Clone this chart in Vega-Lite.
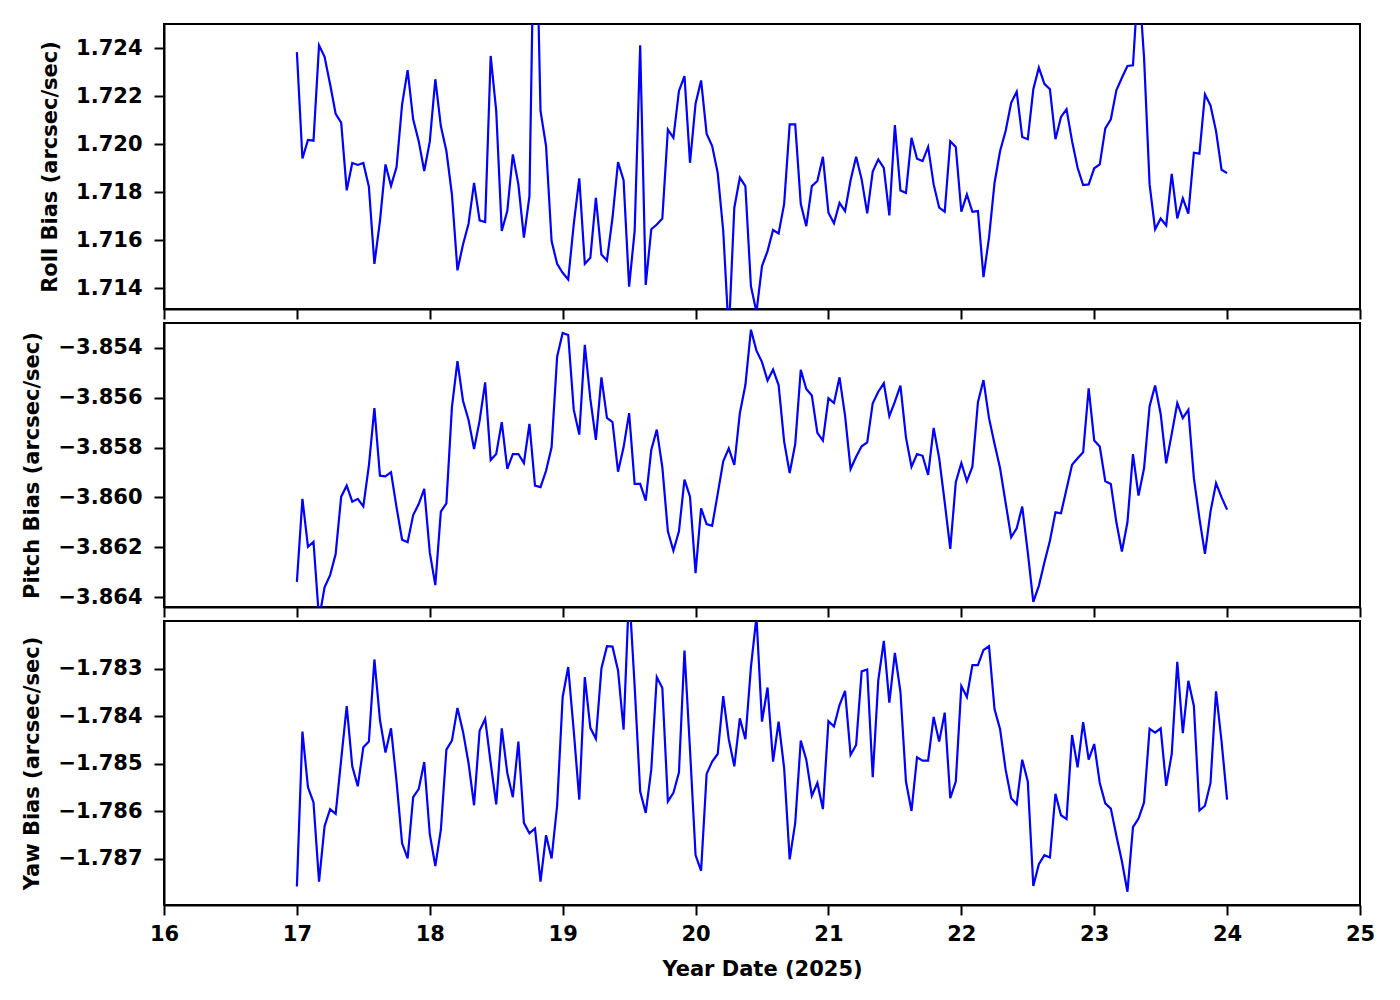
{
  "$schema": "https://vega.github.io/schema/vega-lite/v6.json",
  "background": "white",
  "padding": {"left": 20, "top": 23, "right": 40, "bottom": 10},
  "bounds": "flush",
  "spacing": 14,
  "config": {
    "font": "DejaVu Sans",
    "view": {"stroke": "black", "strokeWidth": 2},
    "axis": {
      "labelFont": "DejaVu Sans", "labelFontWeight": "bold", "labelFontSize": 21, "labelColor": "black",
      "titleFont": "DejaVu Sans", "titleFontWeight": "bold", "titleFontSize": 21, "titleColor": "black",
      "domainColor": "black", "domainWidth": 2, "tickColor": "black", "tickWidth": 2, "tickSize": 10,
      "grid": false, "labelOverlap": false, "labelFlush": false
    },
    "axisY": {"labelPadding": 12, "titlePadding": 15},
    "axisX": {"labelPadding": 8, "titlePadding": 14}
  },
  "datasets": {
    "bias": [
      {"day":17,"roll":1.72383,"pitch":-3.86339,"yaw":-1.78758},
      {"day":17.0417,"roll":1.7194,"pitch":-3.86006,"yaw":-1.78432},
      {"day":17.0833,"roll":1.72017,"pitch":-3.86198,"yaw":-1.78549},
      {"day":17.125,"roll":1.72014,"pitch":-3.86178,"yaw":-1.78581},
      {"day":17.1667,"roll":1.72411,"pitch":-3.86488,"yaw":-1.78748},
      {"day":17.2083,"roll":1.72363,"pitch":-3.86361,"yaw":-1.78631},
      {"day":17.25,"roll":1.72249,"pitch":-3.86312,"yaw":-1.78595},
      {"day":17.2917,"roll":1.72126,"pitch":-3.86227,"yaw":-1.78605},
      {"day":17.3333,"roll":1.72089,"pitch":-3.85997,"yaw":-1.78491},
      {"day":17.375,"roll":1.71807,"pitch":-3.85953,"yaw":-1.78378},
      {"day":17.4167,"roll":1.71921,"pitch":-3.86017,"yaw":-1.78505},
      {"day":17.4583,"roll":1.71913,"pitch":-3.86006,"yaw":-1.78547},
      {"day":17.5,"roll":1.71921,"pitch":-3.86036,"yaw":-1.78465},
      {"day":17.5417,"roll":1.71822,"pitch":-3.85873,"yaw":-1.78453},
      {"day":17.5833,"roll":1.71501,"pitch":-3.85642,"yaw":-1.7828},
      {"day":17.625,"roll":1.71679,"pitch":-3.85913,"yaw":-1.78407},
      {"day":17.6667,"roll":1.71915,"pitch":-3.85916,"yaw":-1.78476},
      {"day":17.7083,"roll":1.71826,"pitch":-3.85899,"yaw":-1.78425},
      {"day":17.75,"roll":1.71904,"pitch":-3.8604,"yaw":-1.78537},
      {"day":17.7917,"roll":1.72165,"pitch":-3.8617,"yaw":-1.78667},
      {"day":17.8333,"roll":1.72308,"pitch":-3.8618,"yaw":-1.78699},
      {"day":17.875,"roll":1.72103,"pitch":-3.86071,"yaw":-1.7857},
      {"day":17.9167,"roll":1.72012,"pitch":-3.86027,"yaw":-1.78553},
      {"day":17.9583,"roll":1.71888,"pitch":-3.85966,"yaw":-1.78496},
      {"day":18,"roll":1.7201,"pitch":-3.86221,"yaw":-1.78648},
      {"day":18.0417,"roll":1.7227,"pitch":-3.86352,"yaw":-1.78715},
      {"day":18.0833,"roll":1.72075,"pitch":-3.86057,"yaw":-1.78639},
      {"day":18.125,"roll":1.71971,"pitch":-3.86024,"yaw":-1.7847},
      {"day":18.1667,"roll":1.7179,"pitch":-3.85638,"yaw":-1.78451},
      {"day":18.2083,"roll":1.71474,"pitch":-3.85453,"yaw":-1.78382},
      {"day":18.25,"roll":1.71582,"pitch":-3.85612,"yaw":-1.78432},
      {"day":18.2917,"roll":1.71668,"pitch":-3.85689,"yaw":-1.78498},
      {"day":18.3333,"roll":1.71838,"pitch":-3.85806,"yaw":-1.78587},
      {"day":18.375,"roll":1.71682,"pitch":-3.85692,"yaw":-1.7843},
      {"day":18.4167,"roll":1.71675,"pitch":-3.85538,"yaw":-1.78405},
      {"day":18.4583,"roll":1.72367,"pitch":-3.8585,"yaw":-1.78498},
      {"day":18.5,"roll":1.72138,"pitch":-3.85826,"yaw":-1.78585},
      {"day":18.5417,"roll":1.71638,"pitch":-3.85698,"yaw":-1.78425},
      {"day":18.5833,"roll":1.71721,"pitch":-3.85886,"yaw":-1.78519},
      {"day":18.625,"roll":1.71957,"pitch":-3.85826,"yaw":-1.7857},
      {"day":18.6667,"roll":1.71832,"pitch":-3.85826,"yaw":-1.78453},
      {"day":18.7083,"roll":1.7161,"pitch":-3.85862,"yaw":-1.78624},
      {"day":18.75,"roll":1.71783,"pitch":-3.85705,"yaw":-1.78646},
      {"day":18.7917,"roll":1.732,"pitch":-3.85953,"yaw":-1.78636},
      {"day":18.8333,"roll":1.72138,"pitch":-3.85959,"yaw":-1.78748},
      {"day":18.875,"roll":1.71992,"pitch":-3.85893,"yaw":-1.7865},
      {"day":18.9167,"roll":1.71596,"pitch":-3.85799,"yaw":-1.78699},
      {"day":18.9583,"roll":1.71501,"pitch":-3.85435,"yaw":-1.78588},
      {"day":19,"roll":1.71464,"pitch":-3.8534,"yaw":-1.78359},
      {"day":19.0417,"roll":1.71436,"pitch":-3.85348,"yaw":-1.78296},
      {"day":19.0833,"roll":1.71665,"pitch":-3.85648,"yaw":-1.7843},
      {"day":19.125,"roll":1.71857,"pitch":-3.85748,"yaw":-1.78575},
      {"day":19.1667,"roll":1.71501,"pitch":-3.85388,"yaw":-1.78317},
      {"day":19.2083,"roll":1.71526,"pitch":-3.85605,"yaw":-1.78424},
      {"day":19.25,"roll":1.71776,"pitch":-3.85769,"yaw":-1.78447},
      {"day":19.2917,"roll":1.7154,"pitch":-3.85518,"yaw":-1.78299},
      {"day":19.3333,"roll":1.71515,"pitch":-3.85681,"yaw":-1.78252},
      {"day":19.375,"roll":1.71693,"pitch":-3.85698,"yaw":-1.78253},
      {"day":19.4167,"roll":1.71925,"pitch":-3.85897,"yaw":-1.78303},
      {"day":19.4583,"roll":1.71849,"pitch":-3.85799,"yaw":-1.78428},
      {"day":19.5,"roll":1.71406,"pitch":-3.85662,"yaw":-1.78135},
      {"day":19.5417,"roll":1.71638,"pitch":-3.85946,"yaw":-1.78336},
      {"day":19.5833,"roll":1.72411,"pitch":-3.85946,"yaw":-1.78558},
      {"day":19.625,"roll":1.71413,"pitch":-3.86013,"yaw":-1.78603},
      {"day":19.6667,"roll":1.71645,"pitch":-3.8581,"yaw":-1.78512},
      {"day":19.7083,"roll":1.71665,"pitch":-3.85728,"yaw":-1.78317},
      {"day":19.75,"roll":1.7169,"pitch":-3.85879,"yaw":-1.7834},
      {"day":19.7917,"roll":1.7206,"pitch":-3.86136,"yaw":-1.78579},
      {"day":19.8333,"roll":1.72026,"pitch":-3.86214,"yaw":-1.78561},
      {"day":19.875,"roll":1.72221,"pitch":-3.86136,"yaw":-1.78518},
      {"day":19.9167,"roll":1.72283,"pitch":-3.85929,"yaw":-1.78261},
      {"day":19.9583,"roll":1.71922,"pitch":-3.85997,"yaw":-1.7847},
      {"day":20,"roll":1.72168,"pitch":-3.86304,"yaw":-1.78692},
      {"day":20.0417,"roll":1.72265,"pitch":-3.86044,"yaw":-1.78725},
      {"day":20.0833,"roll":1.72043,"pitch":-3.86107,"yaw":-1.78521},
      {"day":20.125,"roll":1.71992,"pitch":-3.86114,"yaw":-1.78495},
      {"day":20.1667,"roll":1.7188,"pitch":-3.85986,"yaw":-1.78479},
      {"day":20.2083,"roll":1.71638,"pitch":-3.85855,"yaw":-1.78357},
      {"day":20.25,"roll":1.7121,"pitch":-3.85803,"yaw":-1.78448},
      {"day":20.2917,"roll":1.71735,"pitch":-3.8587,"yaw":-1.78505},
      {"day":20.3333,"roll":1.7186,"pitch":-3.85662,"yaw":-1.78404},
      {"day":20.375,"roll":1.71825,"pitch":-3.85549,"yaw":-1.78448},
      {"day":20.4167,"roll":1.71408,"pitch":-3.85327,"yaw":-1.78296},
      {"day":20.4583,"roll":1.713,"pitch":-3.85411,"yaw":-1.7819},
      {"day":20.5,"roll":1.71492,"pitch":-3.85457,"yaw":-1.78411},
      {"day":20.5417,"roll":1.71554,"pitch":-3.85531,"yaw":-1.78339},
      {"day":20.5833,"roll":1.71642,"pitch":-3.85487,"yaw":-1.78495},
      {"day":20.625,"roll":1.71628,"pitch":-3.85549,"yaw":-1.78411},
      {"day":20.6667,"roll":1.71751,"pitch":-3.85776,"yaw":-1.78509},
      {"day":20.7083,"roll":1.72082,"pitch":-3.85902,"yaw":-1.78701},
      {"day":20.75,"roll":1.72082,"pitch":-3.85786,"yaw":-1.78624},
      {"day":20.7917,"roll":1.71751,"pitch":-3.85488,"yaw":-1.78451},
      {"day":20.8333,"roll":1.71658,"pitch":-3.85565,"yaw":-1.78491},
      {"day":20.875,"roll":1.71825,"pitch":-3.85591,"yaw":-1.78567},
      {"day":20.9167,"roll":1.71846,"pitch":-3.85741,"yaw":-1.7854},
      {"day":20.9583,"roll":1.71947,"pitch":-3.85772,"yaw":-1.78595},
      {"day":21,"roll":1.71714,"pitch":-3.85602,"yaw":-1.7841},
      {"day":21.0417,"roll":1.7167,"pitch":-3.85621,"yaw":-1.78421},
      {"day":21.0833,"roll":1.71755,"pitch":-3.85518,"yaw":-1.78376},
      {"day":21.125,"roll":1.71721,"pitch":-3.85672,"yaw":-1.78346},
      {"day":21.1667,"roll":1.71849,"pitch":-3.85886,"yaw":-1.78481},
      {"day":21.2083,"roll":1.71947,"pitch":-3.85837,"yaw":-1.7846},
      {"day":21.25,"roll":1.71853,"pitch":-3.85795,"yaw":-1.78305},
      {"day":21.2917,"roll":1.71711,"pitch":-3.85779,"yaw":-1.78301},
      {"day":21.3333,"roll":1.71885,"pitch":-3.85622,"yaw":-1.78528},
      {"day":21.375,"roll":1.71936,"pitch":-3.85576,"yaw":-1.78324},
      {"day":21.4167,"roll":1.71901,"pitch":-3.85542,"yaw":-1.78241},
      {"day":21.4583,"roll":1.71703,"pitch":-3.85674,"yaw":-1.78371},
      {"day":21.5,"roll":1.72079,"pitch":-3.85616,"yaw":-1.78266},
      {"day":21.5417,"roll":1.71807,"pitch":-3.85551,"yaw":-1.78348},
      {"day":21.5833,"roll":1.71797,"pitch":-3.85759,"yaw":-1.78537},
      {"day":21.625,"roll":1.72026,"pitch":-3.85877,"yaw":-1.78599},
      {"day":21.6667,"roll":1.71939,"pitch":-3.85826,"yaw":-1.78486},
      {"day":21.7083,"roll":1.71929,"pitch":-3.85833,"yaw":-1.78493},
      {"day":21.75,"roll":1.71988,"pitch":-3.8591,"yaw":-1.78493},
      {"day":21.7917,"roll":1.71832,"pitch":-3.85721,"yaw":-1.78401},
      {"day":21.8333,"roll":1.71735,"pitch":-3.85843,"yaw":-1.78453},
      {"day":21.875,"roll":1.71718,"pitch":-3.8602,"yaw":-1.78392},
      {"day":21.9167,"roll":1.72012,"pitch":-3.86207,"yaw":-1.78572},
      {"day":21.9583,"roll":1.71988,"pitch":-3.85939,"yaw":-1.78537},
      {"day":22,"roll":1.71718,"pitch":-3.85862,"yaw":-1.78336},
      {"day":22.0417,"roll":1.7179,"pitch":-3.85935,"yaw":-1.78359},
      {"day":22.0833,"roll":1.71718,"pitch":-3.85877,"yaw":-1.78292},
      {"day":22.125,"roll":1.71721,"pitch":-3.85618,"yaw":-1.78292},
      {"day":22.1667,"roll":1.71446,"pitch":-3.85529,"yaw":-1.7826},
      {"day":22.2083,"roll":1.7161,"pitch":-3.85682,"yaw":-1.78252},
      {"day":22.25,"roll":1.71839,"pitch":-3.85786,"yaw":-1.78385},
      {"day":22.2917,"roll":1.71971,"pitch":-3.85883,"yaw":-1.78427},
      {"day":22.3333,"roll":1.72054,"pitch":-3.86022,"yaw":-1.78512},
      {"day":22.375,"roll":1.72172,"pitch":-3.8616,"yaw":-1.78572},
      {"day":22.4167,"roll":1.72218,"pitch":-3.86124,"yaw":-1.78585},
      {"day":22.4583,"roll":1.72029,"pitch":-3.86037,"yaw":-1.78491},
      {"day":22.5,"roll":1.7202,"pitch":-3.86221,"yaw":-1.78537},
      {"day":22.5417,"roll":1.72228,"pitch":-3.86419,"yaw":-1.78757},
      {"day":22.5833,"roll":1.72318,"pitch":-3.86355,"yaw":-1.78711},
      {"day":22.625,"roll":1.72251,"pitch":-3.86261,"yaw":-1.78692},
      {"day":22.6667,"roll":1.72228,"pitch":-3.86174,"yaw":-1.78697},
      {"day":22.7083,"roll":1.7202,"pitch":-3.8606,"yaw":-1.78563},
      {"day":22.75,"roll":1.72113,"pitch":-3.86064,"yaw":-1.78608},
      {"day":22.7917,"roll":1.72145,"pitch":-3.85966,"yaw":-1.78616},
      {"day":22.8333,"roll":1.72012,"pitch":-3.85869,"yaw":-1.78439},
      {"day":22.875,"roll":1.71901,"pitch":-3.85843,"yaw":-1.78507},
      {"day":22.9167,"roll":1.71829,"pitch":-3.85819,"yaw":-1.78412},
      {"day":22.9583,"roll":1.71832,"pitch":-3.85562,"yaw":-1.78491},
      {"day":23,"roll":1.71899,"pitch":-3.85772,"yaw":-1.78458},
      {"day":23.0417,"roll":1.71915,"pitch":-3.85796,"yaw":-1.7854},
      {"day":23.0833,"roll":1.72065,"pitch":-3.85935,"yaw":-1.78583},
      {"day":23.125,"roll":1.72103,"pitch":-3.85946,"yaw":-1.78594},
      {"day":23.1667,"roll":1.72224,"pitch":-3.861,"yaw":-1.78651},
      {"day":23.2083,"roll":1.72276,"pitch":-3.86217,"yaw":-1.78705},
      {"day":23.25,"roll":1.72325,"pitch":-3.861,"yaw":-1.78769},
      {"day":23.2917,"roll":1.72328,"pitch":-3.85826,"yaw":-1.78633},
      {"day":23.3333,"roll":1.727,"pitch":-3.85993,"yaw":-1.78615},
      {"day":23.375,"roll":1.7236,"pitch":-3.85883,"yaw":-1.78581},
      {"day":23.4167,"roll":1.71832,"pitch":-3.85634,"yaw":-1.78426},
      {"day":23.4583,"roll":1.71645,"pitch":-3.85551,"yaw":-1.78434},
      {"day":23.5,"roll":1.7169,"pitch":-3.85665,"yaw":-1.78425},
      {"day":23.5417,"roll":1.71661,"pitch":-3.85863,"yaw":-1.78546},
      {"day":23.5833,"roll":1.71876,"pitch":-3.85745,"yaw":-1.78479},
      {"day":23.625,"roll":1.7169,"pitch":-3.85622,"yaw":-1.78285},
      {"day":23.6667,"roll":1.71774,"pitch":-3.85682,"yaw":-1.78435},
      {"day":23.7083,"roll":1.7171,"pitch":-3.85648,"yaw":-1.78325},
      {"day":23.75,"roll":1.71964,"pitch":-3.85923,"yaw":-1.78378},
      {"day":23.7917,"roll":1.7196,"pitch":-3.86084,"yaw":-1.78598},
      {"day":23.8333,"roll":1.72207,"pitch":-3.86227,"yaw":-1.78588},
      {"day":23.875,"roll":1.72161,"pitch":-3.86057,"yaw":-1.7854},
      {"day":23.9167,"roll":1.72054,"pitch":-3.85943,"yaw":-1.78347},
      {"day":23.9583,"roll":1.71893,"pitch":-3.86,"yaw":-1.78453},
      {"day":24,"roll":1.71879,"pitch":-3.86049,"yaw":-1.78575}
    ]
  },
  "vconcat": [
    {
      "width": 1196, "height": 285,
      "data": {"name": "bias"},
      "mark": {"type": "line", "color": "#0000ff", "strokeWidth": 2.2, "clip": true},
      "encoding": {
        "x": {"field": "day", "type": "quantitative", "scale": {"domain": [16, 25], "nice": false, "zero": false},
              "axis": {"values": [16,17,18,19,20,21,22,23,24,25], "labels": false, "title": null}},
        "y": {"field": "roll", "type": "quantitative", "scale": {"domain": [1.71313, 1.725], "nice": false, "zero": false},
              "axis": {"values": [1.714,1.716,1.718,1.72,1.722,1.724], "format": ".3f", "title": "Roll Bias (arcsec/sec)"}}
      }
    },
    {
      "width": 1196, "height": 284,
      "data": {"name": "bias"},
      "mark": {"type": "line", "color": "#0000ff", "strokeWidth": 2.2, "clip": true},
      "encoding": {
        "x": {"field": "day", "type": "quantitative", "scale": {"domain": [16, 25], "nice": false, "zero": false},
              "axis": {"values": [16,17,18,19,20,21,22,23,24,25], "labels": false, "title": null}},
        "y": {"field": "pitch", "type": "quantitative", "scale": {"domain": [-3.8644, -3.853], "nice": false, "zero": false},
              "axis": {"values": [-3.864,-3.862,-3.86,-3.858,-3.856,-3.854], "format": ".3f", "title": "Pitch Bias (arcsec/sec)"}}
      }
    },
    {
      "width": 1196, "height": 284,
      "data": {"name": "bias"},
      "mark": {"type": "line", "color": "#0000ff", "strokeWidth": 2.2, "clip": true},
      "encoding": {
        "x": {"field": "day", "type": "quantitative", "scale": {"domain": [16, 25], "nice": false, "zero": false},
              "axis": {"values": [16,17,18,19,20,21,22,23,24,25], "format": "d", "title": "Year Date (2025)"}},
        "y": {"field": "yaw", "type": "quantitative", "scale": {"domain": [-1.78797, -1.78199], "nice": false, "zero": false},
              "axis": {"values": [-1.787,-1.786,-1.785,-1.784,-1.783], "format": ".3f", "title": "Yaw Bias (arcsec/sec)"}}
      }
    }
  ]
}
